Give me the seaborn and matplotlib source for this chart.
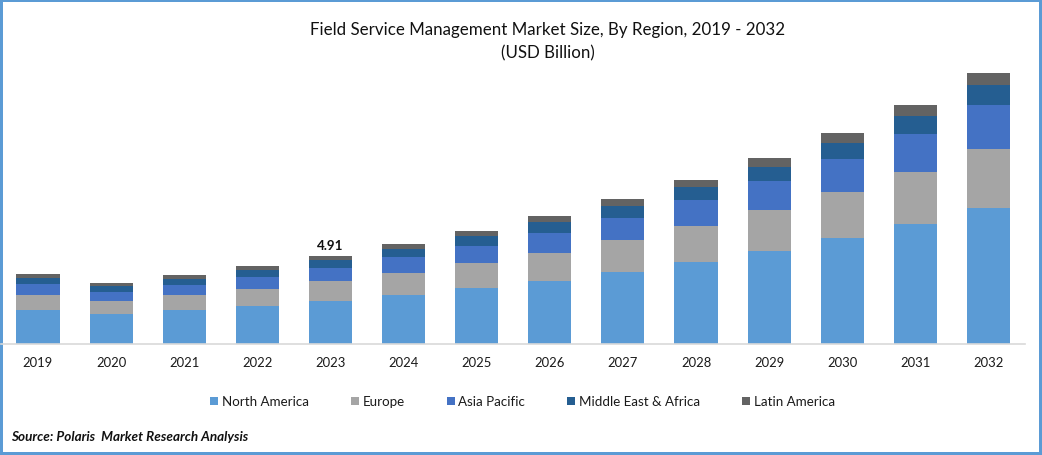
import numpy as np
import seaborn as sns
import matplotlib.pyplot as plt

years = ['2019', '2020', '2021', '2022', '2023', '2024', '2025', '2026', '2027', '2028', '2029', '2030', '2031', '2032']

# USD billion (2023 total = 4.91)
north_america = [1.90, 1.67, 1.90, 2.12, 2.40, 2.73, 3.13, 3.52, 4.02, 4.58, 5.19, 5.92, 6.70, 7.59]
europe = [0.84, 0.73, 0.84, 0.95, 1.12, 1.23, 1.40, 1.56, 1.79, 2.01, 2.29, 2.57, 2.90, 3.29]
asia_pacific = [0.61, 0.50, 0.56, 0.67, 0.73, 0.89, 0.95, 1.12, 1.23, 1.45, 1.62, 1.84, 2.12, 2.46]
middle_east = [0.33, 0.33, 0.33, 0.39, 0.45, 0.45, 0.56, 0.61, 0.67, 0.73, 0.78, 0.89, 1.00, 1.12]
latin_america = [0.22, 0.17, 0.22, 0.22, 0.21, 0.28, 0.28, 0.33, 0.39, 0.39, 0.50, 0.56, 0.61, 0.67]

regions = ['North America', 'Europe', 'Asia Pacific', 'Middle East & Africa', 'Latin America']
colors = ['#5B9BD5', '#A5A5A5', '#4472C4', '#255E91', '#636363']
bar_labels = ['', '', '', '', '4.91', '', '', '', '', '', '', '', '', '']

sns.set_style('white')
plt.rcParams['font.family'] = ['Lato', 'DejaVu Sans']

W, H = 1042, 456
fig = plt.figure(figsize=(W / 100, H / 100), dpi=100, facecolor='white',
                 edgecolor='#5B9BD5', linewidth=2.9)
ax = fig.add_axes([1.4 / W, (H - 345) / H, 1023.6 / W, 284 / H])
ax.patch.set_visible(False)

# stack the five series
bottom = np.zeros(len(years))
for name, vals, col in zip(regions, [north_america, europe, asia_pacific, middle_east, latin_america], colors):
    sns.barplot(x=years, y=vals, bottom=bottom, color=col, saturation=1, width=0.59,
                label=name, ax=ax, legend=False, linewidth=0)
    bottom = bottom + np.array(vals)

ax.bar_label(ax.containers[-1], labels=bar_labels, padding=3.5, fontsize=9.6,
             fontweight='bold', color='#111111')

ax.set_xlim(-0.5, 13.5)
ax.set_ylim(0, 15.85)
ax.set_yticks([])
ax.set_xlabel('')
ax.set_ylabel('')
ax.tick_params(axis='x', length=0, pad=8.8, labelsize=9.4, labelcolor='#1a1a1a')
for s in ['top', 'left', 'right']:
    ax.spines[s].set_visible(False)
ax.spines['bottom'].set_color('#D9D9D9')
ax.spines['bottom'].set_linewidth(1.2)

leg = ax.legend(loc='center', bbox_to_anchor=(521.1 / 1023.6, -57.5 / 284), ncol=5, frameon=False,
                fontsize=9.6, handlelength=0.6, handleheight=0.6, handletextpad=0.3,
                columnspacing=3.12, labelcolor='#1a1a1a')

fig.text(548 / W, 1 - 29.6 / H, 'Field Service Management Market Size, By Region, 2019 - 2032',
         ha='center', va='center', fontsize=12.2, color='#111111')
fig.text(548 / W, 1 - 53.6 / H, '(USD Billion)', ha='center', va='center', fontsize=12.2, color='#111111')
fig.text(11 / W, 1 - 437 / H, 'Source: Polaris  Market Research Analysis', ha='left', va='center',
         fontsize=9.7, fontweight='bold', fontstyle='italic', color='#111111')

fig.savefig('out.png', dpi=100, edgecolor=fig.get_edgecolor())
